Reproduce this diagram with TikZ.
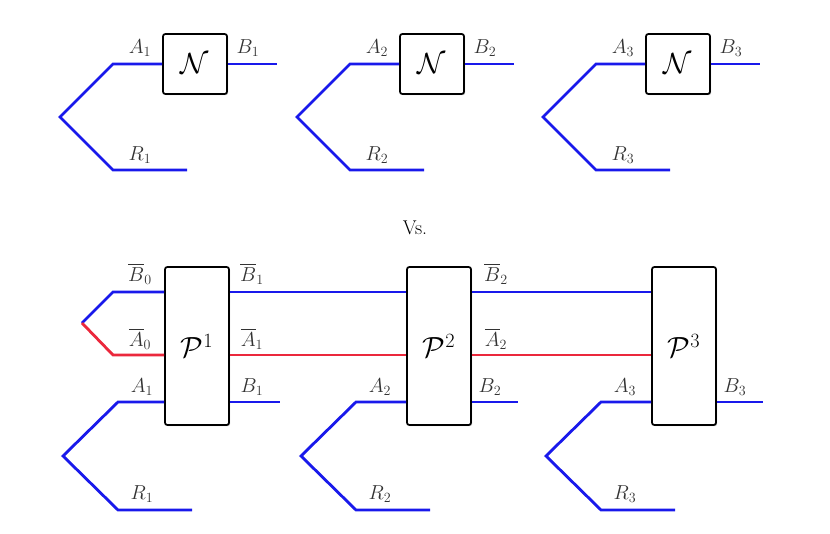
\documentclass[tikz,border=0pt]{standalone}
\usepackage{amsmath}
\usetikzlibrary{shadows}
\definecolor{wblue}{RGB}{25,25,235}
\definecolor{wred}{RGB}{235,40,60}
\tikzset{
  chan/.style={draw=black, line width=1.5pt, fill=white, rounded corners=2pt, drop shadow={opacity=0.4, shadow xshift=1pt, shadow yshift=-1pt}, font=\fontsize{26}{30}\selectfont},
  bw/.style={draw=wblue, line width=2.4pt},
  rw/.style={draw=wred, line width=2.4pt},
  lbl/.style={font=\fontsize{17}{20}\selectfont, inner sep=1pt, text=black!80}
}
\begin{document}
\begin{tikzpicture}[x=0.03cm, y=-0.03cm]
\useasboundingbox (0,0) rectangle (830,534);

% top row: three uses of N
\foreach \i/\dx in {1/0, 2/237, 3/483} {
  \begin{scope}[xshift=\dx*0.03cm]
    \node[chan, minimum width=64*0.03cm, minimum height=60*0.03cm] (N\i) at (195,64) {$\mathcal{N}$};
    \coordinate (t\i) at (60,117);
    \coordinate (a\i) at (113,64);
    \coordinate (r\i) at (113,170);
    \coordinate (re\i) at (187,170);
    \coordinate (be\i) at (277,64);
    \draw[bw] (N\i.west |- a\i) -- (a\i) -- (t\i) -- (r\i) -- (re\i);
    \draw[bw] (N\i.east |- be\i) -- (be\i);
    \node[lbl] at (140,48) {$A_{\i}$};
    \node[lbl] at (248,48) {$B_{\i}$};
    \node[lbl] at (140,155) {$R_{\i}$};
  \end{scope}
}

\node[lbl, text=black] (vs) at (415,228) {Vs.};

% bottom row: processes P^1, P^2, P^3
\node[chan, minimum width=64*0.03cm, minimum height=158*0.03cm] (P1) at (197,346) {$\mathcal{P}^{1}$};
\node[chan, minimum width=64*0.03cm, minimum height=158*0.03cm] (P2) at (439,346) {$\mathcal{P}^{2}$};
\node[chan, minimum width=64*0.03cm, minimum height=158*0.03cm] (P3) at (684,346) {$\mathcal{P}^{3}$};

\coordinate (s0) at (82,323);
\coordinate (b0) at (113,292);
\coordinate (a0) at (113,355);
\draw[bw] (P1.west |- b0) -- (b0) -- (s0);
\draw[rw] (s0) -- (a0) -- (P1.west |- a0);
\draw[bw] (P1.east |- b0) -- (P2.west |- b0);
\draw[rw] (P1.east |- a0) -- (P2.west |- a0);
\draw[bw] (P2.east |- b0) -- (P3.west |- b0);
\draw[rw] (P2.east |- a0) -- (P3.west |- a0);
\node[lbl] at (140,274) {$\overline{B}_0$};
\node[lbl] at (140,339) {$\overline{A}_0$};
\node[lbl] at (252,274) {$\overline{B}_1$};
\node[lbl] at (252,339) {$\overline{A}_1$};
\node[lbl] at (496,274) {$\overline{B}_2$};
\node[lbl] at (496,339) {$\overline{A}_2$};

\foreach \i/\dx in {1/0, 2/238, 3/483} {
  \begin{scope}[xshift=\dx*0.03cm]
    \coordinate (lt\i) at (63,456);
    \coordinate (la\i) at (118,402);
    \coordinate (lr\i) at (118,510);
    \coordinate (lre\i) at (192,510);
    \coordinate (lbe\i) at (280,402);
    \node[lbl] at (142,387) {$A_{\i}$};
    \node[lbl] at (252,387) {$B_{\i}$};
    \node[lbl] at (142,494) {$R_{\i}$};
  \end{scope}
  \draw[bw] (P\i.west |- la\i) -- (la\i) -- (lt\i) -- (lr\i) -- (lre\i);
  \draw[bw] (P\i.east |- lbe\i) -- (lbe\i);
}
\end{tikzpicture}
\end{document}
